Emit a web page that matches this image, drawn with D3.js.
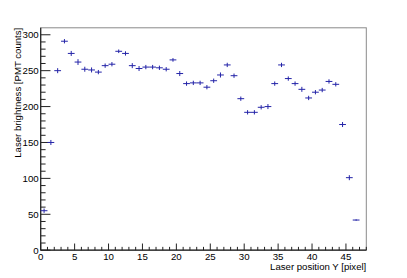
<!DOCTYPE html>
<html lang="en">
<head>
    <meta charset="UTF-8">
    <title>Laser brightness vs position</title>
    <script src="https://d3js.org/d3.v7.min.js"></script>
    <style>
        body {
            margin: 0;
            background-color: white;
            font-family: "Liberation Sans", Arial, sans-serif;
        }

        .tick-label {
            font-size: 9.7px;
            fill: #000;
        }

        .axis-title {
            font-size: 9.6px;
            fill: #000;
        }
    </style>
</head>
<body>
    <div id="chart"></div>

    <script>
        // Данные: позиция лазера (центр бина) и яркость
        const positions = [0.5, 1.5, 2.5, 3.5, 4.5, 5.5, 6.5, 7.5, 8.5, 9.5,
            10.5, 11.5, 12.5, 13.5, 14.5, 15.5, 16.5, 17.5, 18.5, 19.5,
            20.5, 21.5, 22.5, 23.5, 24.5, 25.5, 26.5, 27.5, 28.5, 29.5,
            30.5, 31.5, 32.5, 33.5, 34.5, 35.5, 36.5, 37.5, 38.5, 39.5,
            40.5, 41.5, 42.5, 43.5, 44.5, 45.5, 46.5];
        const brightness = [55, 150, 250, 291, 274, 262, 252, 251, 248, 257,
            259, 277, 274, 257, 253, 255, 255, 254, 252, 265,
            246, 232, 233, 233, 227, 236, 244, 258, 243, 211,
            192, 192, 199, 200, 232, 258, 239, 232, 224, 212,
            220, 223, 235, 231, 175, 101, 42];
        const errors = [3, 3.5, 3.5, 3, 3.5, 4, 3.5, 3.5, 3, 3,
            3, 2.5, 3, 3.5, 3.5, 3, 3, 3, 3, 2.5,
            3.5, 3, 3, 3, 3, 3, 3.5, 3, 3, 3,
            3, 3, 3, 3.5, 3, 3, 3, 3, 3.5, 3,
            3, 3, 3, 3, 3.5, 3.5, 1];
        const binWidth = 1;

        const xTicks = [0, 5, 10, 15, 20, 25, 30, 35, 40, 45];
        const yTicks = [0, 50, 100, 150, 200, 250, 300];

        const width = 407;
        const height = 278;
        const margin = { top: 27.8, right: 40.7, bottom: 27.8, left: 40.7 };

        const svg = d3.select("#chart")
            .append("svg")
            .attr("width", width)
            .attr("height", height);

        const x = d3.scaleLinear()
            .domain([0, 48])
            .range([margin.left, width - margin.right]);

        const y = d3.scaleLinear()
            .domain([0, 309.7])
            .range([height - margin.bottom, margin.top]);

        const frameW = width - margin.left - margin.right;
        const frameH = height - margin.top - margin.bottom;

        // Рамка графика
        svg.append("rect")
            .attr("x", margin.left)
            .attr("y", margin.top)
            .attr("width", frameW)
            .attr("height", frameH)
            .attr("fill", "none")
            .attr("stroke", "#8a8a8a")
            .attr("stroke-width", 1);

        const axisColor = "#222";
        const g = svg.append("g");

        // Ось X: основные и дополнительные деления
        const x0 = y(0);
        const xMajorLen = 0.03 * frameH;
        d3.range(0, 49, 1).forEach(v => {
            const isMajor = v % 5 === 0;
            g.append("line")
                .attr("x1", x(v)).attr("x2", x(v))
                .attr("y1", x0).attr("y2", x0 - (isMajor ? xMajorLen : xMajorLen / 2))
                .attr("stroke", axisColor)
                .attr("stroke-width", 1);
        });
        g.append("line")
            .attr("x1", x(0)).attr("x2", x(48))
            .attr("y1", x0).attr("y2", x0)
            .attr("stroke", axisColor)
            .attr("stroke-width", 1.2);

        g.selectAll(".x-label")
            .data(xTicks)
            .enter()
            .append("text")
            .attr("class", "tick-label")
            .attr("x", d => x(d))
            .attr("y", x0 + 9.6)
            .attr("text-anchor", "middle")
            .text(d => d);

        // Ось Y
        const y0 = x(0);
        const yMajorLen = 0.03 * frameW;
        d3.range(0, 310, 10).forEach(v => {
            const isMajor = v % 50 === 0;
            g.append("line")
                .attr("x1", y0).attr("x2", y0 + (isMajor ? yMajorLen : yMajorLen / 2))
                .attr("y1", y(v)).attr("y2", y(v))
                .attr("stroke", axisColor)
                .attr("stroke-width", 1);
        });
        g.append("line")
            .attr("x1", y0).attr("x2", y0)
            .attr("y1", y(0)).attr("y2", y(309.7))
            .attr("stroke", axisColor)
            .attr("stroke-width", 1.2);

        g.selectAll(".y-label")
            .data(yTicks)
            .enter()
            .append("text")
            .attr("class", "tick-label")
            .attr("x", y0 - 2)
            .attr("y", d => y(d) + 3.5)
            .attr("text-anchor", "end")
            .text(d => d);

        // Подписи осей
        svg.append("text")
            .attr("class", "axis-title")
            .attr("x", width - margin.right)
            .attr("y", 269.5)
            .attr("text-anchor", "end")
            .text("Laser position Y [pixel]");

        svg.append("text")
            .attr("class", "axis-title")
            .attr("transform", `translate(21, ${margin.top}) rotate(-90)`)
            .attr("text-anchor", "end")
            .text("Laser brightness [PMT counts]");

        // Точки с ошибками
        const pointColor = "#2424a8";
        const pts = svg.append("g")
            .selectAll("g")
            .data(positions.map((p, i) => ({ x: p, y: brightness[i], e: errors[i] })))
            .enter()
            .append("g");

        pts.append("line")
            .attr("x1", d => x(d.x - binWidth / 2))
            .attr("x2", d => x(d.x + binWidth / 2))
            .attr("y1", d => y(d.y))
            .attr("y2", d => y(d.y))
            .attr("stroke", pointColor)
            .attr("stroke-width", 1);

        pts.append("line")
            .attr("x1", d => x(d.x))
            .attr("x2", d => x(d.x))
            .attr("y1", d => y(d.y - d.e))
            .attr("y2", d => y(d.y + d.e))
            .attr("stroke", pointColor)
            .attr("stroke-width", 1);
    </script>
</body>
</html>
